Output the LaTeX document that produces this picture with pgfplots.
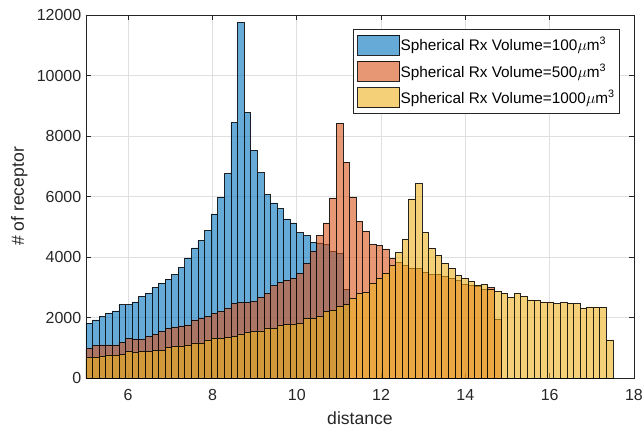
\documentclass[border=0pt]{standalone}
\usepackage{pgfplots}
\pgfplotsset{compat=1.18}
\usepackage{fontspec}
\setmainfont{Liberation Sans}

\definecolor{cblue}{rgb}{0,0.447,0.741}
\definecolor{cred}{rgb}{0.85,0.325,0.098}
\definecolor{cyellow}{rgb}{0.929,0.694,0.125}
\definecolor{axisgray}{rgb}{0.15,0.15,0.15}
\definecolor{gridgray}{RGB}{223,223,223}

\begin{document}
\begin{tikzpicture}
\begin{axis}[
  scale only axis, width=411pt, height=272.25pt,
  xmin=5, xmax=18, ymin=0, ymax=12000,
  xtick={6,8,...,18}, ytick={0,2000,...,12000},
  scaled ticks=false,
  /pgf/number format/assume math mode=true,
  /pgf/number format/set thousands separator={},
  tick label style={font=\fontsize{12}{14}\selectfont, text=axisgray},
  xticklabel style={yshift=-5pt},
  label style={font=\fontsize{13.2}{15}\selectfont, text=axisgray},
  xlabel style={yshift=-1.5pt},
  xlabel={distance}, ylabel={\# of receptor},
  grid=major, major grid style={gridgray, line width=0.5pt},
  tick align=inside, major tick length=4pt,
  every tick/.style={axisgray, line width=0.5pt},
  axis line style={axisgray, line width=0.6pt},
  legend cell align=left,
  legend style={at={(1,1)}, anchor=north east, xshift=-10.5pt, yshift=-10.5pt,
    draw=axisgray, line width=0.5pt, fill=white,
    font=\fontsize{11.5}{13}\selectfont,
    inner xsep=3pt, inner ysep=4pt, row sep=4.3pt,
    nodes={inner sep=0.6pt}},
]

% distance histogram, receiver volume 100 um^3 (bin width 0.15625)
\addplot[ybar interval, fill=cblue, fill opacity=0.6, draw=black, draw opacity=0.85, line width=0.45pt,
  legend image code/.code={\draw[fill=cblue, fill opacity=0.6, draw=black, line width=0.5pt] (0pt,-7.5pt) rectangle (31.5pt,7.5pt);}]
table {
x y
5.00000 1813
5.15625 1922
5.31250 2032
5.46875 2144
5.62500 2221
5.78125 2420
5.93750 2420
6.09375 2519
6.25000 2695
6.40625 2807
6.56250 2994
6.71875 3138
6.87500 3271
7.03125 3414
7.18750 3646
7.34375 3967
7.50000 4298
7.65625 4541
7.81250 4872
7.96875 5425
8.12500 5977
8.28125 6751
8.43750 8442
8.59375 11757
8.75000 8774
8.90625 7524
9.06250 6784
9.21875 6066
9.37500 5790
9.53125 5602
9.68750 5259
9.84375 5127
10.00000 4800
10.15625 4707
10.31250 4485
10.46875 4463
10.62500 4408
10.78125 4186
10.93750 4110
11.09375 2939
11.25000 0
};
\addlegendentry{Spherical Rx Volume=100$\mu$m\textsuperscript{3}}

% receiver volume 500 um^3
\addplot[ybar interval, fill=cred, fill opacity=0.6, draw=black, draw opacity=0.85, line width=0.45pt,
  legend image code/.code={\draw[fill=cred, fill opacity=0.6, draw=black, line width=0.5pt] (0pt,-7.5pt) rectangle (31.5pt,7.5pt);}]
table {
x y
5.00000 984
5.15625 1066
5.31250 1094
5.46875 1094
5.62500 1094
5.78125 1182
5.93750 1315
6.09375 1293
6.25000 1282
6.40625 1370
6.56250 1450
6.71875 1536
6.87500 1646
7.03125 1690
7.18750 1724
7.34375 1757
7.50000 1922
7.65625 1978
7.81250 2032
7.96875 2144
8.12500 2199
8.28125 2309
8.43750 2475
8.59375 2497
8.75000 2497
8.90625 2530
9.06250 2673
9.21875 2807
9.37500 3049
9.53125 3160
9.68750 3230
9.84375 3304
10.00000 3470
10.15625 3779
10.31250 4187
10.46875 4707
10.62500 5127
10.78125 5956
10.93750 8419
11.09375 7136
11.25000 5989
11.40625 5181
11.56250 4860
11.71875 4420
11.87500 4380
12.03125 4265
12.18750 3950
12.34375 3820
12.50000 3720
12.65625 3640
12.81250 3620
12.96875 3500
13.12500 3420
13.28125 3430
13.43750 3370
13.59375 3300
13.75000 3220
13.90625 3110
14.06250 3060
14.21875 3030
14.37500 2920
14.53125 2990
14.68750 1950
14.84375 0
};
\addlegendentry{Spherical Rx Volume=500$\mu$m\textsuperscript{3}}

% receiver volume 1000 um^3
\addplot[ybar interval, fill=cyellow, fill opacity=0.6, draw=black, draw opacity=0.85, line width=0.45pt,
  legend image code/.code={\draw[fill=cyellow, fill opacity=0.6, draw=black, line width=0.5pt] (0pt,-7.5pt) rectangle (31.5pt,7.5pt);}]
table {
x y
5.00000 680
5.15625 700
5.31250 729
5.46875 762
5.62500 762
5.78125 770
5.93750 873
6.09375 860
6.25000 873
6.40625 880
6.56250 906
6.71875 915
6.87500 1000
7.03125 1050
7.18750 1061
7.34375 1094
7.50000 1160
7.65625 1160
7.81250 1260
7.96875 1315
8.12500 1318
8.28125 1335
8.43750 1380
8.59375 1460
8.75000 1510
8.90625 1533
9.06250 1558
9.21875 1655
9.37500 1643
9.53125 1757
9.68750 1770
9.84375 1790
10.00000 1812
10.15625 1978
10.31250 1978
10.46875 2032
10.62500 2199
10.78125 2254
10.93750 2365
11.09375 2420
11.25000 2641
11.40625 2807
11.56250 2829
11.71875 3138
11.87500 3282
12.03125 3470
12.18750 3712
12.34375 4140
12.50000 4590
12.65625 5920
12.81250 6420
12.96875 4817
13.12500 4290
13.28125 4066
13.43750 3801
13.59375 3630
13.75000 3385
13.90625 3300
14.06250 3185
14.21875 3075
14.37500 3090
14.53125 2930
14.68750 2862
14.84375 2806
15.00000 2674
15.15625 2806
15.31250 2696
15.46875 2585
15.62500 2563
15.78125 2519
15.93750 2508
16.09375 2453
16.25000 2497
16.40625 2475
16.56250 2453
16.71875 2320
16.87500 2353
17.03125 2342
17.18750 2342
17.34375 1260
17.50000 0
};
\addlegendentry{Spherical Rx Volume=1000$\mu$m\textsuperscript{3}}

\end{axis}
\pgfresetboundingbox
\path[use as bounding box] ([xshift=-64.5pt,yshift=-40.5pt]current axis.south west)
  rectangle ([xshift=6.75pt,yshift=11.25pt]current axis.north east);
\end{tikzpicture}
\end{document}
